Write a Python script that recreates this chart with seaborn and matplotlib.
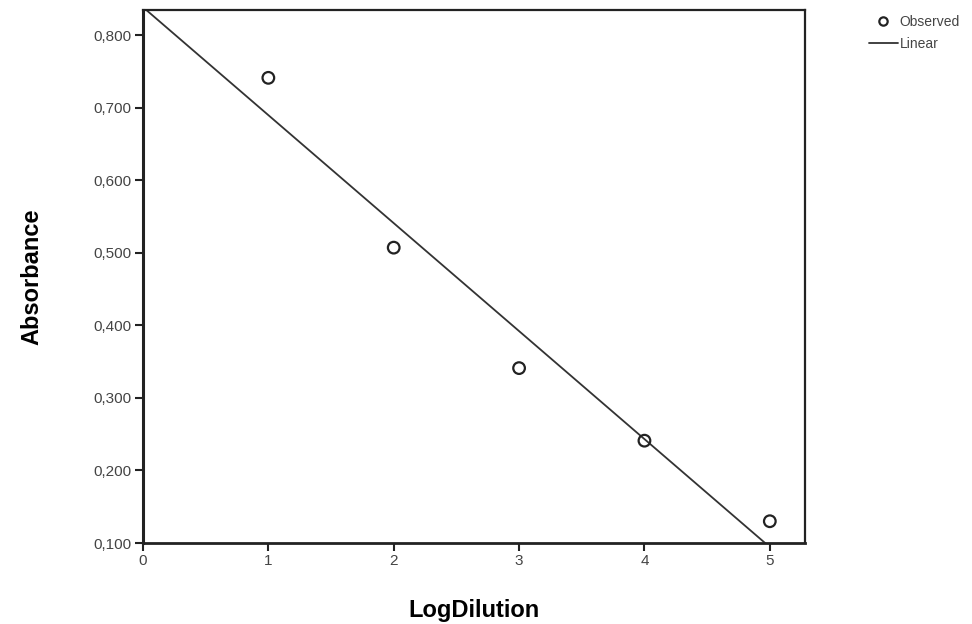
import numpy as np
import pandas as pd
import matplotlib
matplotlib.use("Agg")
import matplotlib.pyplot as plt
import seaborn as sns
from matplotlib.ticker import FuncFormatter
from matplotlib.lines import Line2D

# data
log_dilution = [1, 2, 3, 4, 5]
absorbance = [0.741, 0.507, 0.341, 0.241, 0.130]
x_ticks = [0, 1, 2, 3, 4, 5]
y_ticks = [0.1, 0.2, 0.3, 0.4, 0.5, 0.6, 0.7, 0.8]

df = pd.DataFrame({"LogDilution": log_dilution, "Absorbance": absorbance})

sns.set_style("white")
plt.rcParams["font.family"] = ["Liberation Sans", "DejaVu Sans"]

fig = plt.figure(figsize=(9.72, 6.24), dpi=100)
ax = fig.add_axes([0.1471, 0.1298, 0.6810, 0.8542])
ax.set_xlim(0, 5.28)
ax.set_ylim(0.1, 0.8345)

# fitted line, extended over the whole x range
sns.regplot(data=df, x="LogDilution", y="Absorbance", ax=ax, ci=None,
            truncate=False, scatter=False,
            line_kws={"color": "#333333", "linewidth": 1.3})
sns.scatterplot(data=df, x="LogDilution", y="Absorbance", ax=ax,
                marker="o", s=70, facecolor="none", edgecolor="#222222",
                linewidth=1.6, zorder=3)

ax.set_xlim(0, 5.28)
ax.set_ylim(0.1, 0.8345)
ax.set_xticks(x_ticks)
ax.set_yticks(y_ticks)
ax.yaxis.set_major_formatter(FuncFormatter(lambda v, p: f"{v:.3f}".replace(".", ",")))
ax.tick_params(axis="both", direction="out", length=6, width=1.5,
               color="#222222", labelsize=11, labelcolor="#444444", pad=2,
               bottom=True, left=True)

for side in ["left", "bottom", "top", "right"]:
    ax.spines[side].set_visible(True)
    ax.spines[side].set_color("#222222")
    ax.spines[side].set_linewidth(1.6)
ax.spines["left"].set_linewidth(2.2)
ax.spines["bottom"].set_linewidth(2.0)

ax.set_xlabel("LogDilution", fontsize=17, fontweight="bold", labelpad=22, color="black")
ax.set_ylabel("Absorbance", fontsize=17, fontweight="bold", labelpad=36, color="black")

handles = [
    Line2D([], [], linestyle="none", marker="o", markersize=6,
           markerfacecolor="none", markeredgecolor="#222222", markeredgewidth=1.6),
    Line2D([], [], color="#333333", linewidth=1.3),
]
fig.legend(handles, ["Observed", "Linear"], loc="upper left",
           bbox_to_anchor=(0.881, 0.996), frameon=False, fontsize=10,
           handlelength=2.1, handletextpad=0.1, labelspacing=0.6,
           labelcolor="#444444")

fig.savefig("out.png", dpi=100)
